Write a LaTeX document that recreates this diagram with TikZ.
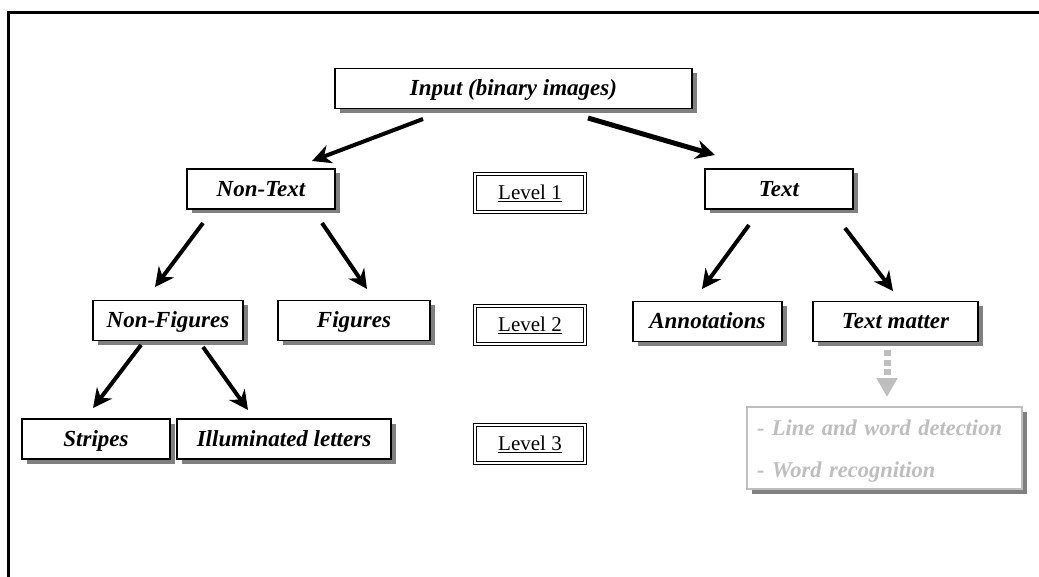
\documentclass[tikz,border=0pt]{standalone}
\usepackage{fontspec}
\setmainfont{Liberation Serif}
\usetikzlibrary{arrows.meta,shadows}
\definecolor{lightg}{RGB}{190,190,190}
\definecolor{shad}{RGB}{128,128,128}
\begin{document}
\begin{tikzpicture}[x=1pt,y=-1pt,
 shadowed/.style={fill=white, inner sep=0pt,
   drop shadow={shadow xshift=4.5pt, shadow yshift=-4.5pt, fill=shad, opacity=1}},
 box/.style={shadowed, draw=black, line width=1.6pt, minimum height=40pt,
   text height=15.5pt, text depth=1pt,
   font=\fontsize{23}{27}\selectfont\bfseries\itshape},
 lvl/.style={draw=black, double=white, double distance=2pt, line width=1.1pt, inner sep=0pt,
   minimum width=110pt, minimum height=38pt, text height=14pt, text depth=1pt,
   font=\fontsize{21}{25}\selectfont},
 arr/.style={line width=4pt, -{Stealth[length=19pt,width=19pt]}},
]
\useasboundingbox (0,0) rectangle (1039,577);
\draw[line width=3pt] (8.5,577) -- (8.5,12.5) -- (1039,12.5);

\node[box, minimum width=357pt] (input) at (513.5,88.5) {Input (binary images)};
\node[box, minimum width=148pt] (nontext) at (261,189) {Non-Text};
\node[lvl] (l1) at (530,193) {\underline{Level 1}};
\node[box, minimum width=148pt] (text) at (779,189) {Text};
\node[box, minimum width=150pt] (nonfig) at (168,320.5) {Non-Figures};
\node[box, minimum width=152pt] (fig) at (354,320.5) {Figures};
\node[lvl] (l2) at (530,325) {\underline{Level 2}};
\node[box, minimum width=149pt] (annot) at (707.5,321.5) {Annotations};
\node[box, minimum width=165pt] (tm) at (895.5,321.5) {Text matter};
\node[box, minimum width=148pt] (stripes) at (96,439) {Stripes};
\node[box, minimum width=214pt] (illum) at (284,439) {Illuminated letters};
\node[lvl] (l3) at (530,444) {\underline{Level 3}};
\node[shadowed, draw=lightg, line width=1.6pt, minimum width=275pt, minimum height=82pt]
  (steps) at (884.5,448) {};
\node[text=lightg, inner sep=0pt, text width=255pt, align=left,
  font=\fontsize{22.5}{42}\selectfont\bfseries\itshape]
  (stepstext) at (884.5,451.5) {- Line and word detection\\- Word recognition};

\coordinate (a1s) at (423,119); \coordinate (a1e) at (312,161);
\coordinate (a2s) at (588,118); \coordinate (a2e) at (715,155);
\coordinate (a3s) at (203,223); \coordinate (a3e) at (155,287);
\coordinate (a4s) at (322,223); \coordinate (a4e) at (367,289);
\coordinate (a5s) at (749,225); \coordinate (a5e) at (702,289);
\coordinate (a6s) at (845,228); \coordinate (a6e) at (893,291);
\coordinate (a7s) at (141,345); \coordinate (a7e) at (93,408);
\coordinate (a8s) at (203,347); \coordinate (a8e) at (248,410);
\coordinate (a9s) at (887,350); \coordinate (a9e) at (887,397);

\draw[arr] (a1s) -- (a1e);
\draw[arr, line width=5pt] (a2s) -- (a2e);
\draw[arr] (a3s) -- (a3e);
\draw[arr] (a4s) -- (a4e);
\draw[arr] (a5s) -- (a5e);
\draw[arr] (a6s) -- (a6e);
\draw[arr] (a7s) -- (a7e);
\draw[arr] (a8s) -- (a8e);
\draw[lightg, line width=7pt, dash pattern=on 6pt off 3.5pt,
  -{Triangle[length=19pt,width=20pt]}] (a9s) -- (a9e);
\end{tikzpicture}
\end{document}
